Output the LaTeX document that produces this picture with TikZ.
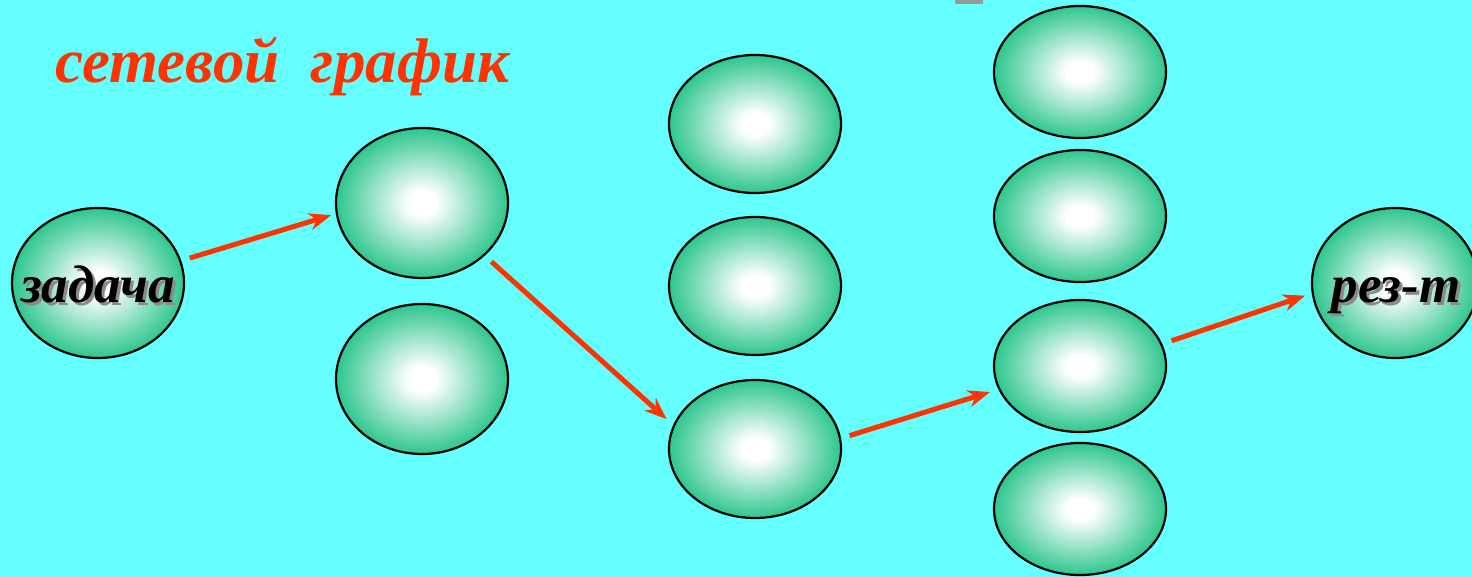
\documentclass[tikz,border=0pt]{standalone}
\usepackage{fontspec}
\setmainfont{Liberation Serif}
\usetikzlibrary{shapes.geometric,arrows.meta,calc}
\definecolor{bgcyan}{HTML}{66FFFF}
\definecolor{nodegreen}{HTML}{2EC68E}
\definecolor{arrowred}{HTML}{FF3300}
\definecolor{shadowgray}{HTML}{8A8A8A}
\pgfdeclareradialshading{nodeshade}{\pgfpoint{0bp}{0bp}}{color(0bp)=(white); color(4bp)=(white); color(25bp)=(nodegreen); color(50bp)=(nodegreen)}
\newcommand\shadowedtext[1]{\makebox[0pt][l]{\kern3pt\raisebox{-3pt}{\textcolor{shadowgray}{#1}}}#1}
\tikzset{
  ev/.style={ellipse, draw=black, line width=2.2pt, shading=nodeshade, minimum width=172pt, inner sep=0pt, outer sep=0pt},
  arr/.style={draw=arrowred, line width=5pt, -{Stealth[length=22pt,width=17pt,inset=7pt]}},
  lbl/.style={font=\fontsize{53}{60}\selectfont\bfseries\itshape, inner sep=0pt, anchor=base},
  titlestyle/.style={font=\fontsize{63}{70}\selectfont\bfseries\itshape, text=arrowred, inner sep=0pt, anchor=base west}
}
\begin{document}
\begin{tikzpicture}[x=1pt,y=-1pt]
\fill[bgcyan] (0,0) rectangle (1472,577);
\useasboundingbox (0,0) rectangle (1472,577);
\fill[gray!80] (955,0) rectangle (983,4);
\node[titlestyle] (title) at (55,83) {сетевой\ \ график};
% nodes
\node[ev, minimum height=150pt] (task) at (98,283) {};
\node[ev, minimum height=150pt] (c2a) at (422,203) {};
\node[ev, minimum height=150pt] (c2b) at (422,379) {};
\node[ev, minimum height=138pt] (c3a) at (755,124) {};
\node[ev, minimum height=138pt] (c3b) at (755,286) {};
\node[ev, minimum height=138pt] (c3c) at (755,449) {};
\node[ev, minimum height=132pt] (c4a) at (1080,72) {};
\node[ev, minimum height=132pt] (c4b) at (1080,216) {};
\node[ev, minimum height=132pt] (c4c) at (1080,366) {};
\node[ev, minimum height=132pt] (c4d) at (1080,509) {};
\node[ev, minimum width=166pt, minimum height=150pt] (res) at (1395,283) {};
% labels
\node[lbl] (tasklabel) at ([yshift=-19pt]task.center) {\shadowedtext{задача}};
\node[lbl] (reslabel) at ([shift={(1pt,-19pt)}]res.center) {\shadowedtext{рез-т}};
% arrows
\draw[arr, shorten <=10pt, shorten >=6pt] (task.15) -- (c2a.187);
\draw[arr, shorten <=10pt, shorten >=10pt] (c2a.-40) -- (c3c.164);
\draw[arr, shorten <=10pt, shorten >=10pt] (c3c.7) -- (c4c.196);
\draw[arr, shorten <=11pt, shorten >=8pt] (c4c.15) -- (res.187);
\end{tikzpicture}
\end{document}
